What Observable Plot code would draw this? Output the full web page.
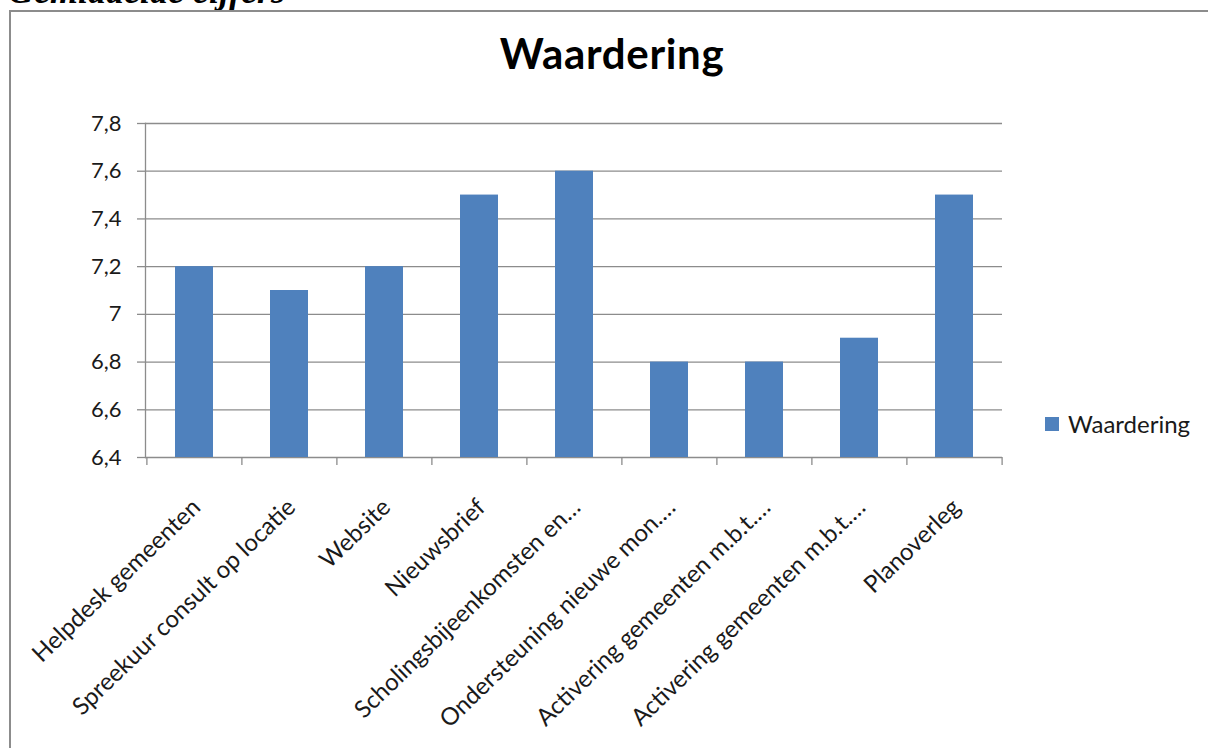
<!DOCTYPE html>
<html>
<head>
<meta charset="utf-8">
<script src="https://cdn.jsdelivr.net/npm/d3@7"></script>
<script src="https://cdn.jsdelivr.net/npm/@observablehq/plot@0.6"></script>
<style>
  body { margin: 0; background: #fff; }
  #wrap { position: relative; width: 1208px; height: 748px; overflow: hidden; background: #fff; font-family: Lato, "Open Sans", sans-serif; }
  #doc { position: absolute; left: 8px; top: -27px; font: italic bold 36px "Liberation Serif", serif; line-height: 36px; color: #000; white-space: nowrap; }
  #box { position: absolute; left: 9px; top: 10px; width: 1400px; height: 1000px; border-left: 2px solid #8c8c8c; border-top: 2px solid #8c8c8c; }
  #chart { position: absolute; left: 0; top: 0; }
  #title { position: absolute; left: 0; width: 1224px; top: 32px; text-align: center; font: bold 42px Lato, sans-serif; letter-spacing: 0.7px; line-height: 42px; color: #000; }
  #legend { position: absolute; left: 1045px; top: 409px; display: flex; align-items: center; font: 24px Lato, sans-serif; color: #1a1a1a; white-space: nowrap; }
  #legend .sw { width: 14px; height: 14px; background: #4f81bd; margin-right: 9px; }
</style>
</head>
<body>
<div id="wrap">
  <div id="doc">Gemiddelde cijfers</div>
  <div id="box"></div>
  <div id="chart"></div>
  <div id="title">Waardering</div>
  <div id="legend"><div class="sw"></div><span>Waardering</span></div>
</div>
<script>
const categories = [
  "Helpdesk gemeenten",
  "Spreekuur consult op locatie",
  "Website",
  "Nieuwsbrief",
  "Scholingsbijeenkomsten en…",
  "Ondersteuning nieuwe mon.…",
  "Activering gemeenten m.b.t.…",
  "Activering gemeenten m.b.t.…",
  "Planoverleg"
];
const values = [7.2, 7.1, 7.2, 7.5, 7.6, 6.8, 6.8, 6.9, 7.5];
const yTicks = [6.4, 6.6, 6.8, 7.0, 7.2, 7.4, 7.6, 7.8];
const seriesName = "Waardering";

const data = categories.map((c, i) => ({i, label: c, value: values[i]}));
const W = 1208, H = 748;
const mL = 145, mR = 206, mT = 123, mB = 291;
const step = (W - mL - mR) / categories.length;
const grid = "#8c8c8c";
const fmt = v => String(+v.toFixed(1)).replace(".", ",");
const yMin = yTicks[0], yMax = yTicks[yTicks.length - 1];

const chart = Plot.plot({
  width: W, height: H,
  marginLeft: mL, marginRight: mR, marginTop: mT, marginBottom: mB,
  style: {fontFamily: "Lato, 'Open Sans', sans-serif", background: "transparent", overflow: "visible"},
  x: {type: "band", domain: d3.range(categories.length), paddingInner: 0.6, paddingOuter: 0.3, axis: null},
  y: {domain: [yMin, yMax], axis: null},
  marks: [
    Plot.gridY(yTicks, {stroke: grid, strokeOpacity: 1, strokeWidth: 1.3}),
    Plot.axisY({ticks: yTicks, tickSize: 8, tickPadding: 16, tickFormat: fmt, label: null, stroke: grid, strokeWidth: 1.3, fill: "#1a1a1a", fontSize: 22}),
    Plot.frame({anchor: "left", stroke: grid, strokeWidth: 1.3}),
    Plot.axisX({ticks: d3.range(categories.length), tickSize: 8, tickFormat: () => "", label: null, dx: -step / 2, stroke: grid, strokeWidth: 1.3}),
    Plot.axisX({ticks: [categories.length - 1], tickSize: 8, tickFormat: () => "", label: null, dx: step / 2, stroke: grid, strokeWidth: 1.3}),
    Plot.barY(data, {x: "i", y1: yMin, y2: "value", fill: "#4f81bd"}),
    Plot.text(data, {x: "i", frameAnchor: "bottom", text: "label", rotate: -44, textAnchor: "end", lineAnchor: "middle", dx: 2, dy: 46, fontSize: 24, fill: "#1a1a1a"})
  ]
});
document.getElementById("chart").appendChild(chart);
</script>
</body>
</html>
